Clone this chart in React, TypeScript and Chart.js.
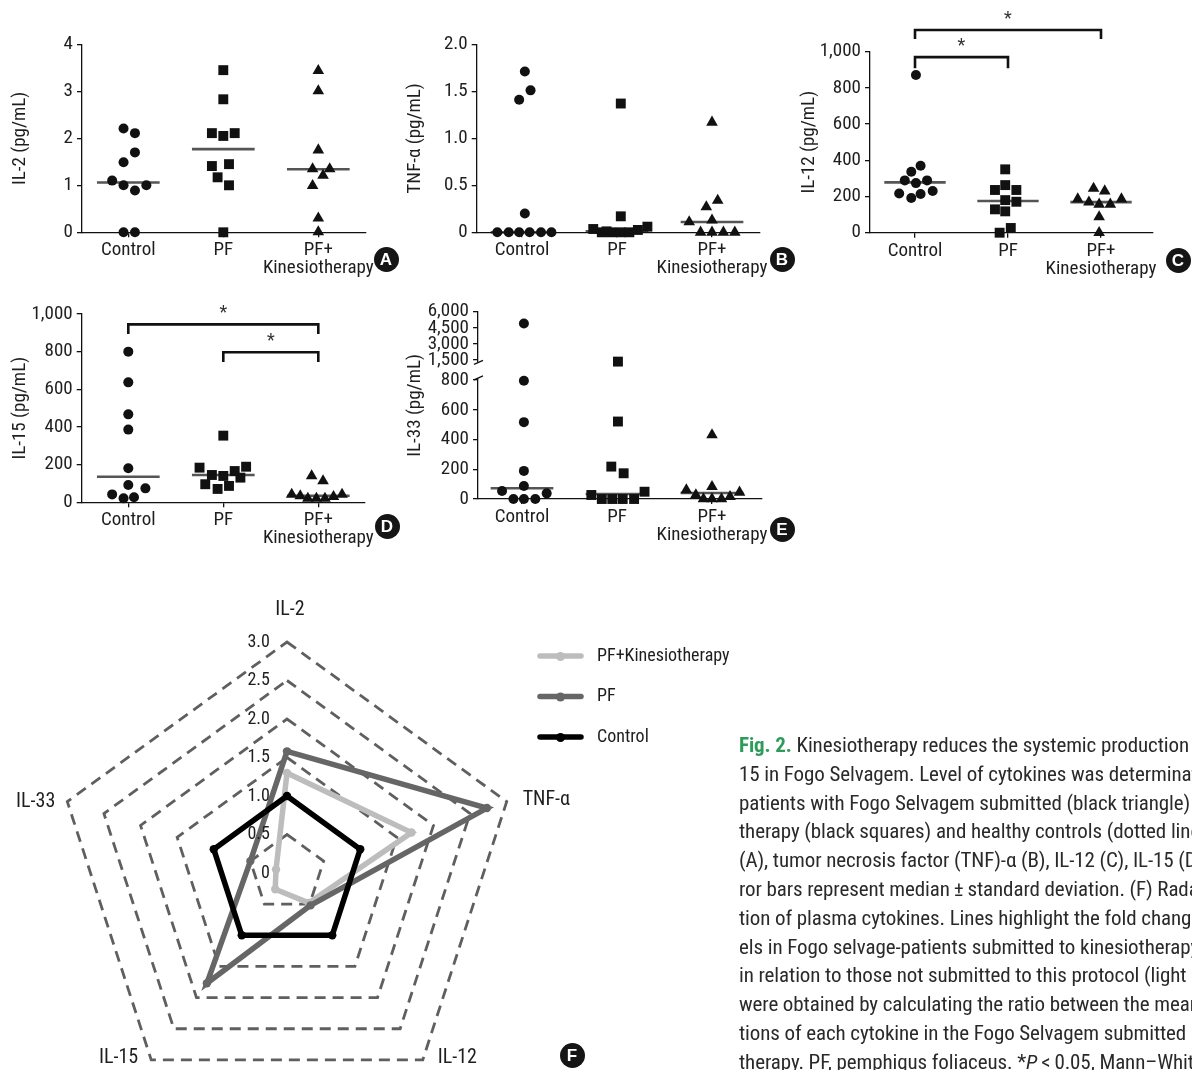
import React, { useEffect, useRef } from 'react';
import { Chart, registerables, LinearScale } from 'chart.js';

Chart.register(...registerables);

const FONT = '"Liberation Sans Narrow", "Roboto Condensed", "DejaVu Sans Condensed", Roboto, sans-serif';
Chart.defaults.font.family = FONT;

const INK = '#111111';
const TEXT = '#1e1e1e';

// ---------------- categories ----------------
const GROUP_LABELS = [['Control'], ['PF'], ['PF+', 'Kinesiotherapy']];

// ---------------- Panel A : IL-2 ----------------
const A_CTRL_DX = [-0.05, 0.07, 0.07, -0.05, -0.17, -0.05, 0.19, 0.07, -0.05, 0.07];
const A_CTRL = [2.21, 2.11, 1.7, 1.49, 1.1, 1.0, 1.0, 0.89, 0, 0];
const A_PF_DX = [0, 0, -0.12, 0, 0.12, -0.12, 0.06, -0.06, 0.06, 0];
const A_PF = [3.45, 2.83, 2.11, 2.05, 2.11, 1.41, 1.45, 1.17, 1.0, 0];
const A_PFK_DX = [0, 0, 0, -0.06, 0.12, 0.05, -0.06, 0, 0];
const A_PFK = [3.44, 3.01, 1.75, 1.35, 1.35, 1.21, 0.99, 0.3, 0.01];
const A_MED = [1.06, 1.77, 1.34];

// ---------------- Panel B : TNF-α ----------------
const B_CTRL_DX = [0.03, 0.09, -0.03, 0.03, -0.26, -0.14, -0.03, 0.08, 0.2, 0.31];
const B_CTRL = [1.71, 1.51, 1.41, 0.2, 0, 0, 0, 0, 0, 0];
const B_PF_DX = [0.04, 0.04, -0.25, -0.16, -0.06, 0.04, 0.13, 0.22, 0.32, -0.11];
const B_PF = [1.37, 0.17, 0.035, 0, 0, 0, 0, 0.025, 0.06, 0.01];
const B_PFK_DX = [0, 0.06, -0.06, -0.24, 0, -0.12, 0, 0.12, 0.24];
const B_PFK = [1.17, 0.34, 0.27, 0.11, 0.13, 0, 0, 0, 0];
const B_MED = [0, 0.01, 0.11];

// ---------------- Panel C : IL-12 ----------------
const C_CTRL_DX = [0.01, 0.06, -0.04, -0.11, 0.01, 0.13, -0.17, -0.04, 0.06, 0.19];
const C_CTRL = [871, 370, 337, 289, 274, 289, 217, 192, 214, 230];
const C_PF_DX = [-0.03, -0.03, -0.14, 0.09, -0.03, 0.09, -0.14, -0.03, 0.03, -0.09];
const C_PF = [350, 263, 236, 236, 180, 171, 129, 118, 26, 0];
const C_PFK_DX = [-0.25, -0.13, -0.08, -0.02, 0.04, 0.1, 0.22, -0.02, -0.02];
const C_PFK = [186, 169, 245, 157, 230, 157, 186, 87, 0];
const C_MED = [278, 175, 169];
const C_SIG = [
  { from: 0, to: 2, level: 1120, drop: 50 },
  { from: 0, to: 1, level: 970, drop: 61 },
];

// ---------------- Panel D : IL-15 ----------------
const D_CTRL_DX = [0, 0, 0, 0, 0, 0, 0.18, -0.17, -0.05, 0.06];
const D_CTRL = [800, 637, 467, 386, 181, 92, 74, 42, 21, 27];
const D_PF_DX = [0, -0.25, -0.12, 0, 0.12, 0.24, 0.18, -0.19, -0.06, 0.06];
const D_PF = [354, 184, 145, 140, 166, 189, 131, 96, 71, 87];
const D_PFK_DX = [-0.07, 0.05, -0.28, -0.19, -0.11, -0.02, 0.07, 0.16, 0.25];
const D_PFK = [140, 113, 42, 34, 21, 21, 21, 30, 42];
const D_MED = [136, 145, 35];
const D_SIG = [
  { from: 0, to: 2, level: 945, drop: 51 },
  { from: 1, to: 2, level: 797, drop: 52 },
];

// ---------------- Panel E : IL-33 (broken axis) ----------------
const E_CTRL_DX = [0.02, 0.02, 0.02, 0.02, 0.02, -0.21, 0.26, -0.09, 0.02, 0.14];
const E_CTRL = [4900, 795, 517, 189, 88, 54, 38, 0, 0, 0];
const E_PF_DX = [0.01, 0.01, -0.06, 0.07, -0.27, -0.16, -0.05, 0.06, 0.18, 0.29];
const E_PF = [1350, 521, 218, 173, 27, 0, 0, 0, 0, 49];
const E_PFK_DX = [0, 0, -0.27, -0.17, 0.29, 0.19, -0.09, 0, 0.1];
const E_PFK = [431, 83, 61, 27, 45, 16, 0, 0, 0];
const E_MED = [72, 34, 40];
const E_TICKS = [0, 200, 400, 600, 800, 1500, 3000, 4500, 6000];
const E_BREAK_VALUES = [0, 815, 1270, 6000];

// ---------------- Panel F : radar ----------------
const RADAR_AXES = ['IL-2', 'TNF-α', 'IL-12', 'IL-15', 'IL-33'];
const RADAR_CONTROL = [1, 1, 1, 1, 1];
const RADAR_PF = [1.58, 2.73, 0.52, 1.77, 0.5];
const RADAR_PFK = [1.3, 1.7, 0.48, 0.26, 0.15];
const RADAR_TICKS = [0, 0.5, 1, 1.5, 2, 2.5, 3];

// ---------------- broken scale ----------------
const BREAK_FRACTIONS = [0, 0.647, 0.729, 1];

class BrokenLinearScale extends (LinearScale as any) {
  static id = 'brokenLinear';
  static defaults = {};
  buildTicks() {
    return E_TICKS.map((value) => ({ value }));
  }
  getPixelForValue(value: number) {
    const v = E_BREAK_VALUES;
    const f = BREAK_FRACTIONS;
    let i = 0;
    while (i < v.length - 2 && value > v[i + 1]) i++;
    const dec = f[i] + ((value - v[i]) / (v[i + 1] - v[i])) * (f[i + 1] - f[i]);
    return (this as any).getPixelForDecimal(dec);
  }
  getValueForPixel(pixel: number) {
    const dec = (this as any).getDecimalForPixel(pixel);
    const v = E_BREAK_VALUES;
    const f = BREAK_FRACTIONS;
    let i = 0;
    while (i < f.length - 2 && dec > f[i + 1]) i++;
    return v[i] + ((dec - f[i]) / (f[i + 1] - f[i])) * (v[i + 1] - v[i]);
  }
}
Chart.register(BrokenLinearScale as any);

// ---------------- panel specs ----------------
const POINT_STYLES = ['circle', 'rect', 'triangle'];
const POINT_RADII = [5, 7, 6.7];
const MEDIAN_HALF = 0.33;

type Box = { x: number; y: number; w: number; h: number };
type Area = { l: number; t: number; r: number; b: number };
type Sig = { from: number; to: number; level: number; drop: number };

interface PanelSpec {
  title: string;
  offsets: number[][];
  values: number[][];
  medians: number[];
  yType: string;
  yMin: number;
  yMax: number;
  yStep?: number;
  yFormat: (v: number) => string;
  box: Box;
  area: Area;
  cat0: number;
  catStep: number;
  titleX: number;
  sig: Sig[];
}

const fmtThousands = (v: number) => Number(v).toLocaleString('en-US');

const PANELS: PanelSpec[] = [
  {
    title: 'IL-2 (pg/mL)',
    offsets: [A_CTRL_DX, A_PF_DX, A_PFK_DX],
    values: [A_CTRL, A_PF, A_PFK],
    medians: A_MED,
    yType: 'linear', yMin: 0, yMax: 4, yStep: 1,
    yFormat: (v) => String(v),
    box: { x: 0, y: 0, w: 400, h: 290 },
    area: { l: 82, t: 44.3, r: 366, b: 232.3 },
    cat0: 128.3, catStep: 95, titleX: 20, sig: [],
  },
  {
    title: 'TNF-α (pg/mL)',
    offsets: [B_CTRL_DX, B_PF_DX, B_PFK_DX],
    values: [B_CTRL, B_PF, B_PFK],
    medians: B_MED,
    yType: 'linear', yMin: 0, yMax: 2, yStep: 0.5,
    yFormat: (v) => (v === 0 ? '0' : Number(v).toFixed(1)),
    box: { x: 400, y: 0, w: 395, h: 290 },
    area: { l: 476.7, t: 44.3, r: 760, b: 232.3 },
    cat0: 522, catStep: 95, titleX: 415.5, sig: [],
  },
  {
    title: 'IL-12 (pg/mL)',
    offsets: [C_CTRL_DX, C_PF_DX, C_PFK_DX],
    values: [C_CTRL, C_PF, C_PFK],
    medians: C_MED,
    yType: 'linear', yMin: 0, yMax: 1000, yStep: 200,
    yFormat: fmtThousands,
    box: { x: 790, y: 0, w: 402, h: 290 },
    area: { l: 870, t: 51.7, r: 1153, b: 232.7 },
    cat0: 915, catStep: 93, titleX: 809, sig: C_SIG,
  },
  {
    title: 'IL-15 (pg/mL)',
    offsets: [D_CTRL_DX, D_PF_DX, D_PFK_DX],
    values: [D_CTRL, D_PF, D_PFK],
    medians: D_MED,
    yType: 'linear', yMin: 0, yMax: 1000, yStep: 200,
    yFormat: fmtThousands,
    box: { x: 0, y: 290, w: 400, h: 270 },
    area: { l: 81.7, t: 314, r: 365, b: 502.3 },
    cat0: 128.3, catStep: 95, titleX: 20, sig: D_SIG,
  },
  {
    title: 'IL-33 (pg/mL)',
    offsets: [E_CTRL_DX, E_PF_DX, E_PFK_DX],
    values: [E_CTRL, E_PF, E_PFK],
    medians: E_MED,
    yType: 'brokenLinear', yMin: 0, yMax: 6000,
    yFormat: fmtThousands,
    box: { x: 400, y: 290, w: 395, h: 270 },
    area: { l: 478, t: 311.7, r: 761.7, b: 499 },
    cat0: 522, catStep: 95, titleX: 415.5, sig: [],
  },
];

// ---------------- plugins ----------------
function makeSigPlugin(pairs: Sig[]) {
  return {
    id: 'sigBrackets',
    afterDatasetsDraw(chart: any) {
      if (!pairs.length) return;
      const { ctx } = chart;
      const xs = chart.scales.x;
      const ys = chart.scales.y;
      ctx.save();
      ctx.strokeStyle = INK;
      ctx.lineWidth = 2.6;
      ctx.lineJoin = 'miter';
      ctx.lineCap = 'butt';
      ctx.fillStyle = '#333';
      ctx.font = `18px ${FONT}`;
      ctx.textAlign = 'center';
      ctx.textBaseline = 'alphabetic';
      pairs.forEach(({ from, to, level, drop }) => {
        const x1 = xs.getPixelForValue(from);
        const x2 = xs.getPixelForValue(to);
        const y = ys.getPixelForValue(level);
        const yEnd = ys.getPixelForValue(level - drop);
        ctx.beginPath();
        ctx.moveTo(x1, yEnd);
        ctx.lineTo(x1, y);
        ctx.lineTo(x2, y);
        ctx.lineTo(x2, yEnd);
        ctx.stroke();
        ctx.fillText('*', (x1 + x2) / 2, y - 6);
      });
      ctx.restore();
    },
  };
}

const breakPlugin = {
  id: 'axisBreak',
  afterDraw(chart: any) {
    const { ctx, chartArea } = chart;
    const ys = chart.scales.y;
    const x = chartArea.left;
    const yHi = ys.getPixelForValue(E_BREAK_VALUES[2]);
    const yLo = ys.getPixelForValue(E_BREAK_VALUES[1]);
    ctx.save();
    ctx.clearRect(x - 3, yHi, 6, yLo - yHi);
    ctx.strokeStyle = INK;
    ctx.lineWidth = 1.3;
    [yHi, yLo].forEach((y) => {
      ctx.beginPath();
      ctx.moveTo(x - 4, y + 2);
      ctx.lineTo(x + 5, y - 2);
      ctx.stroke();
    });
    ctx.restore();
  },
};

function buildScatterConfig(p: PanelSpec): any {
  const L = p.area.l - p.box.x;
  const T = p.area.t - p.box.y;
  const R = p.area.r - p.box.x;
  const B = p.area.b - p.box.y;
  const xMin = (p.area.l - p.cat0) / p.catStep;
  const xMax = (p.area.r - p.cat0) / p.catStep;
  const datasets: any[] = [];
  p.values.forEach((vals, g) => {
    datasets.push({
      type: 'scatter',
      order: 0,
      data: vals.map((v, i) => ({ x: g + p.offsets[g][i], y: v })),
      pointStyle: POINT_STYLES[g],
      pointRadius: POINT_RADII[g],
      pointBorderWidth: 0,
      pointBackgroundColor: INK,
      backgroundColor: INK,
      borderColor: INK,
      clip: false,
    });
  });
  p.medians.forEach((m, g) => {
    datasets.push({
      type: 'line',
      order: 1,
      data: [
        { x: g - MEDIAN_HALF, y: m },
        { x: g + MEDIAN_HALF, y: m },
      ],
      borderColor: '#555555',
      borderWidth: 2.6,
      pointRadius: 0,
      clip: false,
    });
  });
  const tickFont = { family: FONT, size: 19 };
  const gridOpts = { drawOnChartArea: false, drawTicks: true, tickLength: 5, color: INK, lineWidth: 1.3 };
  const borderOpts = { display: true, color: INK, width: 1.3, z: 1 };
  const plugins: any[] = [makeSigPlugin(p.sig)];
  if (p.yType === 'brokenLinear') plugins.push(breakPlugin);
  return {
    type: 'scatter',
    data: { datasets },
    options: {
      responsive: false,
      animation: false,
      events: [],
      layout: { padding: { left: 0, top: T, right: p.box.w - R, bottom: 0 } },
      plugins: { legend: { display: false }, tooltip: { enabled: false } },
      scales: {
        x: {
          type: 'linear',
          min: xMin,
          max: xMax,
          afterBuildTicks: (s: any) => {
            s.ticks = GROUP_LABELS.map((_, i) => ({ value: i }));
          },
          afterFit: (s: any) => {
            s.height = p.box.h - B;
          },
          grid: gridOpts,
          border: borderOpts,
          ticks: {
            autoSkip: false,
            maxRotation: 0,
            padding: 4,
            color: TEXT,
            font: { ...tickFont, lineHeight: 0.96 },
            callback: (v: any) => GROUP_LABELS[Math.round(Number(v))] || '',
          },
        },
        y: {
          type: p.yType,
          min: p.yMin,
          max: p.yMax,
          afterFit: (s: any) => {
            s.width = L;
          },
          grid: gridOpts,
          border: borderOpts,
          ticks: {
            autoSkip: false,
            padding: 4,
            color: TEXT,
            font: tickFont,
            stepSize: p.yStep,
            callback: (v: any) => p.yFormat(Number(v)),
          },
          title: {
            display: true,
            text: p.title,
            color: TEXT,
            font: { family: FONT, size: 19, lineHeight: 1.2 },
            padding: { top: p.titleX - p.box.x - 11.4, bottom: 0 },
          },
        },
      },
    },
    plugins,
  };
}

function ScatterPanel({ p }: { p: PanelSpec }) {
  const ref = useRef<HTMLCanvasElement>(null);
  useEffect(() => {
    const chart = new Chart(ref.current as HTMLCanvasElement, buildScatterConfig(p));
    return () => chart.destroy();
  }, []);
  return (
    <canvas
      ref={ref}
      width={p.box.w}
      height={p.box.h}
      style={{ position: 'absolute', left: p.box.x, top: p.box.y, width: p.box.w, height: p.box.h }}
    />
  );
}

// ---------------- radar ----------------
const RADAR_BOX = { x: 0, y: 590, w: 760, h: 520 };
const RADAR_CENTER = { x: 287, y: 873 };
const RADAR_R = 231;
const AXIS_LABEL_OFFSETS = [
  { dx: 3, dy: -32, align: 'center' },
  { dx: 16, dy: -2, align: 'left' },
  { dx: 15, dy: -2, align: 'left' },
  { dx: -13, dy: -2, align: 'right' },
  { dx: -12, dy: 0, align: 'right' },
];
const LEGEND_POS = { x1: 540, x2: 581, dot: 560.5, text: 597, y0: 66, dy: 40.5 };

const radarTextPlugin = {
  id: 'radarText',
  afterDraw(chart: any) {
    const { ctx } = chart;
    const r = chart.scales.r;
    ctx.save();
    ctx.fillStyle = TEXT;
    ctx.textBaseline = 'middle';
    ctx.font = `18px ${FONT}`;
    ctx.textAlign = 'right';
    RADAR_TICKS.forEach((v) => {
      const pt = r.getPointPositionForValue(0, v);
      ctx.fillText(v === 0 ? '0' : v.toFixed(1), pt.x - 17, pt.y);
    });
    ctx.font = `20px ${FONT}`;
    (chart.data.labels as string[]).forEach((label, i) => {
      const pt = r.getPointPosition(i, r.drawingArea);
      const o = AXIS_LABEL_OFFSETS[i];
      ctx.textAlign = o.align;
      ctx.fillText(label, pt.x + o.dx, pt.y + o.dy);
    });
    // legend
    const items = [...chart.data.datasets].reverse();
    ctx.font = `18px ${FONT}`;
    ctx.textAlign = 'left';
    items.forEach((ds: any, k: number) => {
      const y = LEGEND_POS.y0 + k * LEGEND_POS.dy;
      ctx.strokeStyle = ds.borderColor;
      ctx.lineWidth = 5.5;
      ctx.lineCap = 'round';
      ctx.beginPath();
      ctx.moveTo(LEGEND_POS.x1, y);
      ctx.lineTo(LEGEND_POS.x2, y);
      ctx.stroke();
      ctx.fillStyle = ds.borderColor;
      ctx.beginPath();
      ctx.arc(LEGEND_POS.dot, y + 0.5, 4.5, 0, Math.PI * 2);
      ctx.fill();
      ctx.fillStyle = TEXT;
      ctx.fillText(ds.label, LEGEND_POS.text, y);
    });
    ctx.restore();
  },
};

function RadarPanel() {
  const ref = useRef<HTMLCanvasElement>(null);
  useEffect(() => {
    const cx = RADAR_CENTER.x - RADAR_BOX.x;
    const cy = RADAR_CENTER.y - RADAR_BOX.y;
    const mk = (label: string, data: number[], color: string) => ({
      label,
      data,
      borderColor: color,
      backgroundColor: color,
      pointBackgroundColor: color,
      pointBorderColor: color,
      pointBorderWidth: 0,
      pointRadius: 4.2,
      borderWidth: 5.5,
      fill: false,
      tension: 0,
    });
    const chart = new Chart(ref.current as HTMLCanvasElement, {
      type: 'radar',
      data: {
        labels: RADAR_AXES,
        datasets: [
          mk('Control', RADAR_CONTROL, '#000000'),
          mk('PF', RADAR_PF, '#666666'),
          mk('PF+Kinesiotherapy', RADAR_PFK, '#bdbdbd'),
        ],
      },
      options: {
        responsive: false,
        animation: false,
        events: [],
        layout: {
          padding: {
            left: cx - RADAR_R,
            right: RADAR_BOX.w - (cx + RADAR_R),
            top: cy - RADAR_R,
            bottom: RADAR_BOX.h - (cy + RADAR_R),
          },
        },
        plugins: { legend: { display: false }, tooltip: { enabled: false } },
        scales: {
          r: {
            min: 0,
            max: 3,
            ticks: { stepSize: 0.5, display: false },
            pointLabels: { display: false },
            angleLines: { display: false },
            grid: { color: '#5f5f5f', lineWidth: 2.8 },
            border: { dash: [11, 7] },
          } as any,
        },
      } as any,
      plugins: [radarTextPlugin as any],
    });
    return () => chart.destroy();
  }, []);
  return (
    <canvas
      ref={ref}
      width={RADAR_BOX.w}
      height={RADAR_BOX.h}
      style={{ position: 'absolute', left: RADAR_BOX.x, top: RADAR_BOX.y, width: RADAR_BOX.w, height: RADAR_BOX.h }}
    />
  );
}

// ---------------- badges & caption ----------------
const BADGES = [
  { t: 'A', x: 386, y: 259 },
  { t: 'B', x: 782, y: 259 },
  { t: 'C', x: 1178, y: 260 },
  { t: 'D', x: 387, y: 526 },
  { t: 'E', x: 782, y: 529 },
  { t: 'F', x: 572, y: 1055 },
];

function Badge({ t, x, y }: { t: string; x: number; y: number }) {
  return (
    <div
      style={{
        position: 'absolute',
        left: x - 12.5,
        top: y - 12.5,
        width: 25,
        height: 25,
        borderRadius: '50%',
        background: '#151515',
        color: '#fff',
        fontFamily: '"Liberation Sans", Arial, sans-serif',
        fontWeight: 'bold',
        fontSize: 17,
        lineHeight: '25px',
        textAlign: 'center',
      }}
    >
      {t}
    </div>
  );
}

function Caption() {
  return (
    <div
      style={{
        position: 'absolute',
        left: 739,
        top: 731,
        fontFamily: FONT,
        fontSize: 21,
        letterSpacing: '-0.1px',
        lineHeight: '28.8px',
        color: '#2a2a2a',
        whiteSpace: 'nowrap',
      }}
    >
      <div>
        <span style={{ color: '#2e9b5a', fontWeight: 'bold' }}>Fig. 2.</span> Kinesiotherapy reduces the systemic production of IL-12 and IL-
      </div>
      <div>15 in Fogo Selvagem. Level of cytokines was determinated in plasma of</div>
      <div>patients with Fogo Selvagem submitted (black triangle) or not to kinesio-</div>
      <div>therapy (black squares) and healthy controls (dotted line). IL-2</div>
      <div>(A), tumor necrosis factor (TNF)-α (B), IL-12 (C), IL-15 (D), and IL-33 (E). Er-</div>
      <div>ror bars represent median{'\u2009'}±{'\u2009'}standard deviation. (F) Radar chart representa-</div>
      <div>tion of plasma cytokines. Lines highlight the fold change of cytokine lev-</div>
      <div>els in Fogo selvage-patients submitted to kinesiotherapy (dark gray)</div>
      <div>in relation to those not submitted to this protocol (light gray). Values</div>
      <div>were obtained by calculating the ratio between the mean concentra-</div>
      <div>tions of each cytokine in the Fogo Selvagem submitted or not to kinesio-</div>
      <div>
        therapy. PF, pemphigus foliaceus. *<i>P</i>{'\u2009'}&lt;{'\u2009'}0.05, Mann–Whitney test.
      </div>
    </div>
  );
}

export default function App() {
  return (
    <div
      style={{
        position: 'absolute',
        left: 0,
        top: 0,
        width: 1192,
        height: 1070,
        overflow: 'hidden',
        background: '#ffffff',
      }}
    >
      {PANELS.map((p, i) => (
        <ScatterPanel key={i} p={p} />
      ))}
      <RadarPanel />
      {BADGES.map((b) => (
        <Badge key={b.t} t={b.t} x={b.x} y={b.y} />
      ))}
      <Caption />
    </div>
  );
}
